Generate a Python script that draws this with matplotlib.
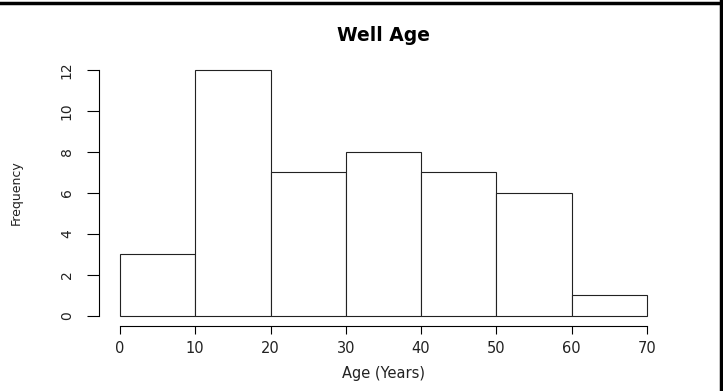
import matplotlib
matplotlib.use("Agg")
import matplotlib.pyplot as plt
from matplotlib.lines import Line2D

plt.rcParams["font.family"] = ["DejaVu Sans"]

# histogram data
bin_edges = [0, 10, 20, 30, 40, 50, 60, 70]
counts = [3, 12, 7, 8, 7, 6, 1]
x_ticks = [0, 10, 20, 30, 40, 50, 60, 70]
y_ticks = [0, 2, 4, 6, 8, 10, 12]

fig = plt.figure(figsize=(7.23, 3.91), dpi=100)
ax = fig.add_axes([0.1368, 0.1675, 0.787, 0.679])

ax.bar(bin_edges[:-1], counts, width=[b - a for a, b in zip(bin_edges[:-1], bin_edges[1:])],
       align="edge", color="white", edgecolor="#222222", linewidth=0.8)

ax.set_xlim(-2.8, 72.8)
ax.set_ylim(-0.48, 12.48)

# R-style detached axes
for s in ["top", "right"]:
    ax.spines[s].set_visible(False)
ax.spines["left"].set_bounds(0, 12)
ax.spines["bottom"].set_bounds(0, 70)
ax.spines["left"].set_linewidth(0.8)
ax.spines["bottom"].set_linewidth(0.8)

ax.set_xticks(x_ticks)
ax.set_yticks(y_ticks)
ax.tick_params(axis="x", length=6, width=0.8, pad=5, labelsize=10.5, labelcolor="#222222")
ax.tick_params(axis="y", length=9, width=0.8, pad=9, labelsize=10, labelcolor="#222222")
for t in ax.get_yticklabels():
    t.set_rotation(90)
    t.set_va("center")

ax.set_title("Well Age", fontsize=13.5, fontweight="bold", pad=14)
ax.set_xlabel("Age (Years)", fontsize=10.5, labelpad=7, color="#222222")
ax.set_ylabel("Frequency", fontsize=9, labelpad=27, color="#222222")

# frame pieces along the top and right of the picture
fig.add_artist(Line2D([0, 1], [0.9935, 0.9935], transform=fig.transFigure, color="black", linewidth=2.5))
fig.add_artist(Line2D([0.9975, 0.9975], [0, 1], transform=fig.transFigure, color="black", linewidth=2.5))

fig.savefig("out.png", dpi=100)
